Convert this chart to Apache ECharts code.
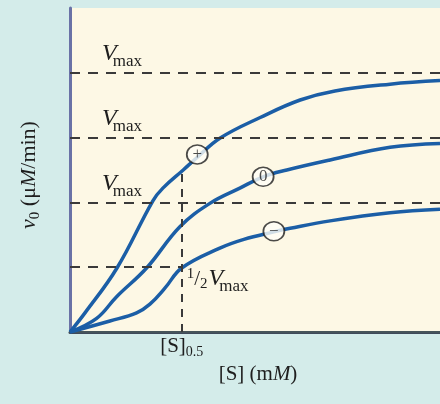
<!DOCTYPE html>
<html><head><meta charset="utf-8">
<script src="https://cdn.jsdelivr.net/npm/echarts@6/dist/echarts.min.js"></script>
<style>html,body{margin:0;padding:0;background:#d4ecea}#c{width:440px;height:404px}</style>
</head><body><div id="c"></div>
<script>
// ---- data (S in arbitrary units 0..100, v0 in % of plot height) ----
const plusS  = [0, 4.05, 12.7, 22.4, 25.1, 30.6, 34.2, 40.5, 51.4, 62.2, 71.6, 86.5, 100];
const plusV  = [0, 5.9, 19.75, 40.5, 44.4, 50.0, 53.7, 59.8, 66.2, 71.6, 74.4, 76.5, 77.6];
const zeroS  = [0, 7.2, 12.6, 20.7, 29.7, 37.8, 45.9, 52.2, 58.6, 70.3, 86.5, 100];
const zeroV  = [0, 4.2, 10.9, 19.75, 32.5, 39.7, 44.4, 47.9, 50.0, 53.1, 57.0, 58.2];
const minusS = [0, 10.8, 18, 21.6, 25.7, 30.2, 40.5, 47, 55.1, 59.5, 70.3, 86.5, 100];
const minusV = [0, 3.4, 5.9, 8.6, 13.6, 19.75, 25.9, 28.6, 30.9, 32.0, 34.3, 36.8, 37.9];
const markerS = [34.4, 52.2, 55.1];
const markerV = [54.8, 47.9, 31.1];
const markerText = ['+', '0', '\u2212'];
const vmaxLevels = [80, 60, 40];
const halfVmax = 20;
const s05 = 30.2;
const s05Top = 50.6;

const FF = '"Liberation Serif", "DejaVu Serif", serif';
const INK = '#1e1e1e';
const BLUE = '#1b5ea6';
const chart = echarts.init(document.getElementById('c'), null, {renderer: 'canvas'});
const dash = {color: '#3a3a3a', width: 2, type: [10, 8]};

function curve(name, s, v) {
  return {type: 'line', name, data: s.map((x, i) => [x, v[i]]), smooth: 0.4,
    showSymbol: false, symbol: 'none', lineStyle: {color: BLUE, width: 3.5}, z: 3, silent: true};
}

chart.setOption({
  backgroundColor: '#d4ecea',
  animation: false,
  grid: {left: 70, right: 0, top: 8, bottom: 72, show: true, backgroundColor: '#fdf8e5', borderWidth: 0},
  xAxis: [
    {type: 'value', min: 0, max: 100, position: 'bottom',
     axisLine: {show: true, onZero: false, lineStyle: {color: '#3f4a5a', width: 3}},
     axisTick: {show: false}, axisLabel: {show: false}, splitLine: {show: false}},
    {type: 'value', min: 0, max: 100, position: 'top',
     axisLine: {show: true, lineStyle: {color: '#46545a', width: 2}},
     axisTick: {show: false}, axisLabel: {show: false}, splitLine: {show: false}}
  ],
  yAxis: {type: 'value', min: 0, max: 100,
    axisLine: {show: true, onZero: false, lineStyle: {color: '#6a72a6', width: 3}},
    axisTick: {show: false}, axisLabel: {show: false}, splitLine: {show: false}},
  series: [
    {type: 'line', data: [], z: 1, silent: true,
     markLine: {silent: true, symbol: 'none', label: {show: false}, lineStyle: dash, animation: false,
       data: vmaxLevels.map(l => ({yAxis: l})).concat([
         [{coord: [0, halfVmax]}, {coord: [s05, halfVmax]}],
         [{coord: [s05, 0]}, {coord: [s05, s05Top], lineStyle: {type: [8, 7]}}]
       ])}},
    curve('plus', plusS, plusV),
    curve('zero', zeroS, zeroV),
    curve('minus', minusS, minusV),
    {type: 'scatter', z: 5, silent: true, symbol: 'circle', symbolSize: [21, 19],
     itemStyle: {color: '#fffef6', borderColor: INK, borderWidth: 1.7},
     label: {show: true, position: 'inside', formatter: p => p.value[2], color: INK,
             fontFamily: FF, fontSize: 17},
     data: markerS.map((s, i) => [s, markerV[i], markerText[i]])}
  ]
});

// ---- text annotations laid out with measured runs ----
const mctx = document.createElement('canvas').getContext('2d');
function run(parts) {
  let x = 0; const kids = [];
  parts.forEach(p => {
    mctx.font = (p.i ? 'italic ' : '') + p.size + 'px ' + FF;
    const w = mctx.measureText(p.t).width;
    kids.push({type: 'text', x: x + (p.kx || 0), y: (p.dy || 0) - 0.32 * p.size, silent: true,
      style: {text: p.t, fontFamily: FF, fontSize: p.size, fontStyle: p.i ? 'italic' : 'normal',
              fill: INK, align: 'left', verticalAlign: 'middle'}});
    x += w + (p.kx || 0);
  });
  return {kids, width: x};
}
function label(parts, x, baseline, anchor, rot) {
  const r = run(parts);
  if (anchor === 'center') r.kids.forEach(k => k.x -= r.width / 2);
  return {type: 'group', x, y: baseline, rotation: rot || 0, children: r.kids, z: 10};
}
const P = (s, v) => chart.convertToPixel({xAxisIndex: 0, yAxisIndex: 0}, [s, v]);
const vmaxParts = [{t: 'V', size: 24, i: true}, {t: 'max', size: 17, dy: 6, kx: -4}];
const g = [];
vmaxLevels.forEach(l => { const p = P(0, l); g.push(label(vmaxParts, p[0] + 32, p[1] - 11.5)); });
const hp = P(s05, halfVmax);
g.push(label([{t: '1', size: 15, dy: -7}, {t: '/', size: 21}, {t: '2', size: 15, dy: 3},
              {t: 'V', size: 24, i: true, kx: 1}, {t: 'max', size: 17, dy: 6, kx: -4}], hp[0] + 5, hp[1] + 19));
const sp = P(s05, 0);
g.push(label([{t: '[S]', size: 21}, {t: '0.5', size: 14, dy: 4}], sp[0], sp[1] + 21, 'center'));
g.push(label([{t: '[S] (m', size: 21}, {t: 'M', size: 21, i: true}, {t: ')', size: 21}], 258, 381, 'center'));
g.push(label([{t: 'v', size: 22, i: true}, {t: '0', size: 15, dy: 4}, {t: ' (\u03bc', size: 22},
              {t: 'M', size: 22, i: true}, {t: '/min)', size: 22}], 36, 175, 'center', Math.PI / 2));
chart.setOption({graphic: g});
</script></body></html>
